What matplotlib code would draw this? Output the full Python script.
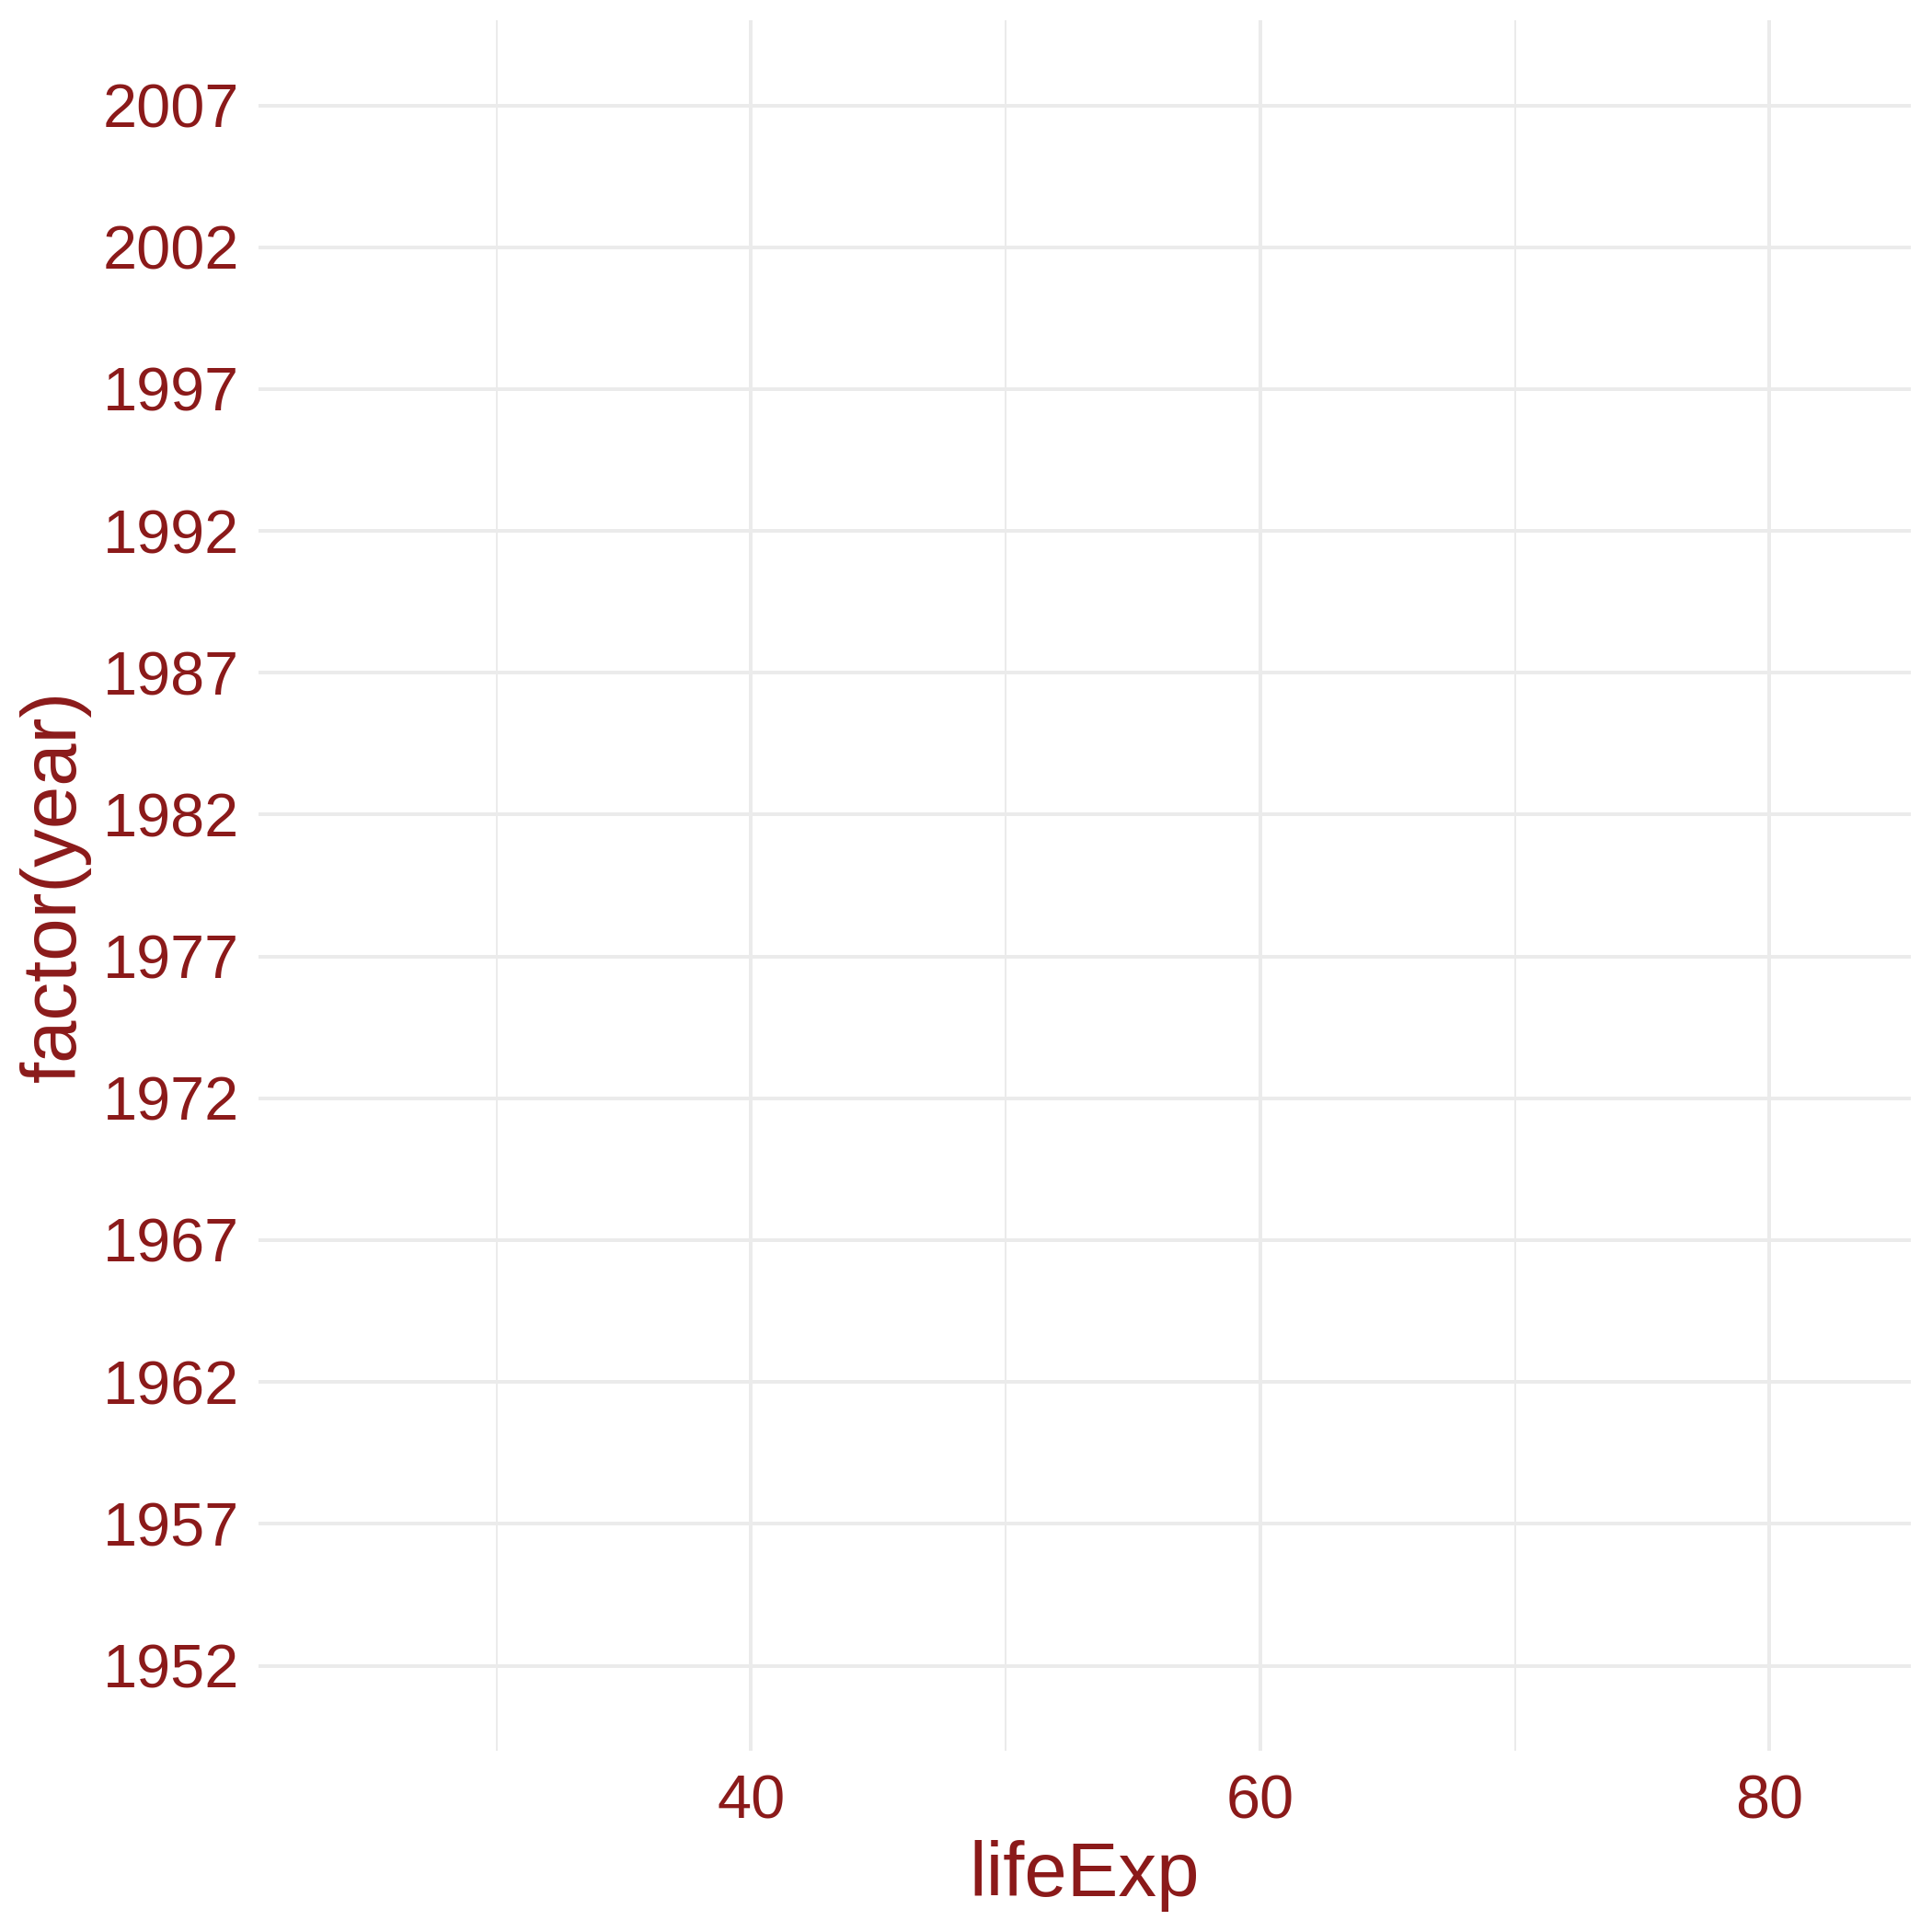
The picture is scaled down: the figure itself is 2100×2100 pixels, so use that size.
import matplotlib
matplotlib.use("Agg")
import matplotlib.pyplot as plt
from matplotlib.ticker import FixedLocator

# Data (empty panel: only scales are shown)
years = [1952, 1957, 1962, 1967, 1972, 1977, 1982, 1987, 1992, 1997, 2002, 2007]
life_exp_range = [23.599, 82.603]
x_major_ticks = [40, 60, 80]
x_minor_ticks = [30, 50, 70]
x_label = "lifeExp"
y_label = "factor(year)"

text_color = "#8B1A1A"
grid_color = "#EBEBEB"

plt.rcParams['font.family'] = ['Liberation Sans', 'DejaVu Sans']

fig = plt.figure(figsize=(7, 7), dpi=300)
ax = fig.add_axes([0.1338, 0.0938, 0.989 - 0.1338, 0.9895 - 0.0938])

span = life_exp_range[1] - life_exp_range[0]
ax.set_xlim(life_exp_range[0] - 0.05 * span, life_exp_range[1] + 0.05 * span)
ypos = list(range(len(years)))
ax.set_ylim(-0.6, len(years) - 1 + 0.6)

ax.xaxis.set_major_locator(FixedLocator(x_major_ticks))
ax.xaxis.set_minor_locator(FixedLocator(x_minor_ticks))
ax.set_yticks(ypos)
ax.set_yticklabels([str(y) for y in years])

ax.grid(which='major', axis='both', color=grid_color, linewidth=0.96)
ax.grid(which='minor', axis='x', color=grid_color, linewidth=0.48)
ax.set_axisbelow(True)

for s in ax.spines.values():
    s.set_visible(False)

ax.tick_params(axis='both', which='both', length=0, labelsize=16, labelcolor=text_color)
ax.tick_params(axis='x', pad=6)
ax.tick_params(axis='y', pad=5)

ax.set_xlabel(x_label, fontsize=20, color=text_color, labelpad=2.5)
ax.set_ylabel(y_label, fontsize=20, color=text_color, labelpad=3)

fig.savefig("out.png", dpi=300, facecolor="white")
